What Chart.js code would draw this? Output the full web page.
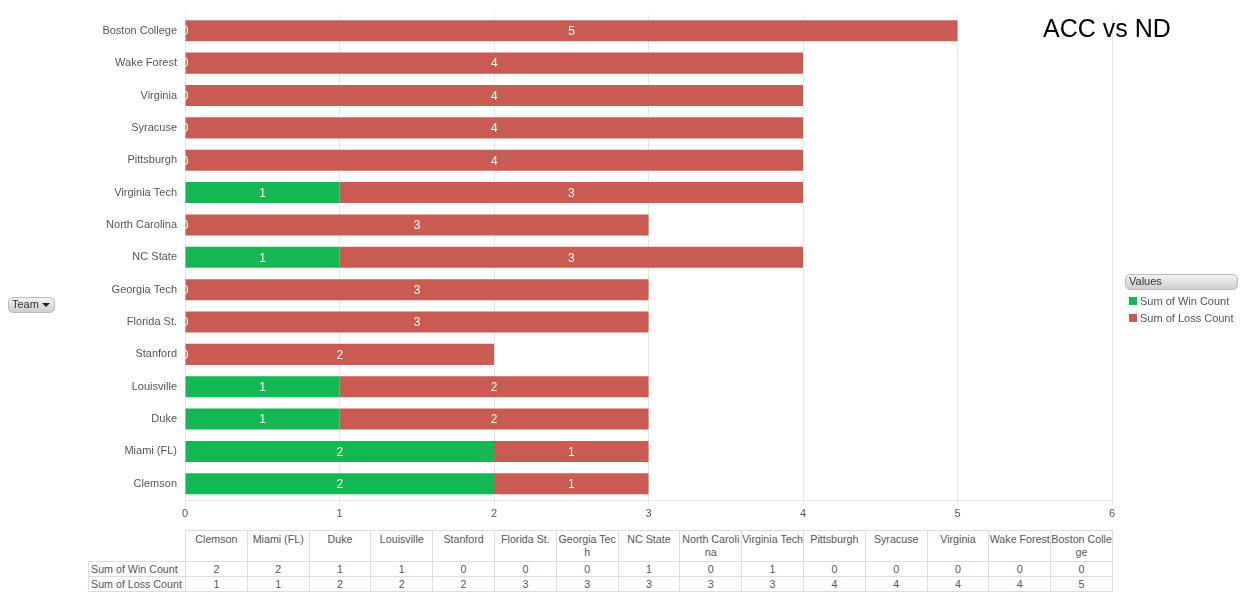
<!DOCTYPE html>
<html>
<head>
<meta charset="utf-8">
<script src="https://cdn.jsdelivr.net/npm/chart.js@4.4.1/dist/chart.umd.min.js"></script>
<style>
  html, body { margin: 0; padding: 0; background: #fff; }
  body { width: 1242px; height: 603px; position: relative; overflow: hidden; font-family: "Liberation Sans", Arial, sans-serif; }
  #wrap { position: absolute; left: 0; top: 0; width: 1242px; height: 520px; }
  #title { position: absolute; left: 1043px; top: 14px; font-size: 25px; color: #000; white-space: nowrap; }
  .btn { position: absolute; border: 1px solid #bbb; border-radius: 5px; background: linear-gradient(#f2f2f2, #cfcfcf); font-size: 11px; color: #333; box-sizing: border-box; line-height: 13px; padding-left: 3px; }
  #teamBtn { left: 8px; top: 297px; width: 47px; height: 16px; }
  #teamBtn span.arr { position: absolute; right: 4px; top: 5px; width: 0; height: 0; border-left: 4px solid transparent; border-right: 4px solid transparent; border-top: 4px solid #222; }
  #valuesBtn { left: 1125px; top: 274px; width: 113px; height: 16px; }
  #legend { position: absolute; left: 1129px; top: 294px; font-size: 11px; color: #555; }
  #legend div { height: 17px; line-height: 14px; white-space: nowrap; }
  #legend i { display: inline-block; width: 8px; height: 8px; margin-right: 3px; vertical-align: 0px; }
  #tbl { position: absolute; left: 88px; top: 530px; border-collapse: collapse; table-layout: fixed; font-size: 10.7px; color: #555; }
  #tbl td { border: 1px solid #ddd; text-align: center; padding: 0; line-height: 13px; height: 14px; overflow: hidden; word-break: break-all; }
  #tbl tr.hdr td { vertical-align: top; height: 28px; padding-top: 2px; }
  #tbl td.lbl { text-align: left; white-space: nowrap; padding-left: 2px; }
  #tbl td.blank { border: none; }
</style>
</head>
<body>
<div id="wrap"><canvas id="c" width="1242" height="520"></canvas></div>
<div id="title">ACC vs ND</div>
<div class="btn" id="teamBtn">Team<span class="arr"></span></div>
<div class="btn" id="valuesBtn">Values</div>
<div id="legend"></div>
<table id="tbl"></table>
<script>
const teams = ["Clemson","Miami (FL)","Duke","Louisville","Stanford","Florida St.","Georgia Tech","NC State","North Carolina","Virginia Tech","Pittsburgh","Syracuse","Virginia","Wake Forest","Boston College"];
const winCount  = [2,2,1,1,0,0,0,1,0,1,0,0,0,0,0];
const lossCount = [1,1,2,2,2,3,3,3,3,3,4,4,4,4,5];
const seriesNames = ["Sum of Win Count","Sum of Loss Count"];
const seriesColors = ["#14B853","#C95B53"];
const xTicks = [0,1,2,3,4,5,6];

const labelPlugin = {
  id: 'segLabels',
  afterDatasetsDraw(chart) {
    const ctx = chart.ctx, area = chart.chartArea;
    ctx.save();
    ctx.beginPath();
    ctx.rect(area.left, area.top, area.right - area.left, area.bottom - area.top);
    ctx.clip();
    ctx.fillStyle = '#fff';
    ctx.font = '12px "Liberation Sans", Arial, sans-serif';
    ctx.textAlign = 'center';
    ctx.textBaseline = 'middle';
    chart.data.datasets.forEach((ds, di) => {
      const meta = chart.getDatasetMeta(di);
      meta.data.forEach((bar, i) => {
        const v = ds.data[i];
        const cx = (bar.x + bar.base) / 2;
        ctx.fillText(String(v), cx, bar.y + 1);
      });
    });
    ctx.restore();
  }
};

new Chart(document.getElementById('c'), {
  type: 'bar',
  data: {
    labels: teams,
    datasets: [
      { label: seriesNames[0], data: winCount, backgroundColor: seriesColors[0] },
      { label: seriesNames[1], data: lossCount, backgroundColor: seriesColors[1] }
    ]
  },
  options: {
    indexAxis: 'y',
    responsive: false,
    animation: false,
    devicePixelRatio: 1,
    layout: { padding: { left: 0, right: 130, top: 12, bottom: 0 } },
    plugins: { legend: { display: false }, tooltip: { enabled: false } },
    datasets: { bar: { categoryPercentage: 1, barPercentage: 0.65 } },
    scales: {
      x: {
        stacked: true, min: 0, max: 6,
        afterBuildTicks(s) { s.ticks = xTicks.map(v => ({ value: v })); },
        grid: { color: '#e6e6e6', tickLength: 5, drawTicks: true },
        border: { color: '#e6e6e6' },
        ticks: { color: '#555', font: { size: 11, family: '"Liberation Sans", Arial, sans-serif' }, padding: 2, maxRotation: 0 },
        afterFit(s) { s.height = 20; }
      },
      y: {
        stacked: true, reverse: true,
        grid: { display: false, drawTicks: false },
        border: { display: false },
        ticks: { color: '#555', font: { size: 11, family: '"Liberation Sans", Arial, sans-serif' }, padding: 8, autoSkip: false },
        afterFit(s) { s.width = 185; }
      }
    }
  },
  plugins: [labelPlugin]
});
</script>
<script>
// legend
const lg = document.getElementById('legend');
seriesNames.forEach((n, i) => {
  const d = document.createElement('div');
  d.innerHTML = '<i style="background:' + seriesColors[i] + '"></i>' + n;
  lg.appendChild(d);
});
// table
const tbl = document.getElementById('tbl');
const colW = (1112 - 185) / teams.length;
let html = '<colgroup><col style="width:97px">' + teams.map(() => '<col style="width:' + colW + 'px">').join('') + '</colgroup>';
html += '<tr class="hdr"><td class="blank"></td>' + teams.map(t => '<td>' + t + '</td>').join('') + '</tr>';
html += '<tr><td class="lbl">' + seriesNames[0] + '</td>' + winCount.map(v => '<td>' + v + '</td>').join('') + '</tr>';
html += '<tr><td class="lbl">' + seriesNames[1] + '</td>' + lossCount.map(v => '<td>' + v + '</td>').join('') + '</tr>';
tbl.innerHTML = html;
tbl.style.width = (97 + colW * teams.length) + 'px';
</script>
</body>
</html>
